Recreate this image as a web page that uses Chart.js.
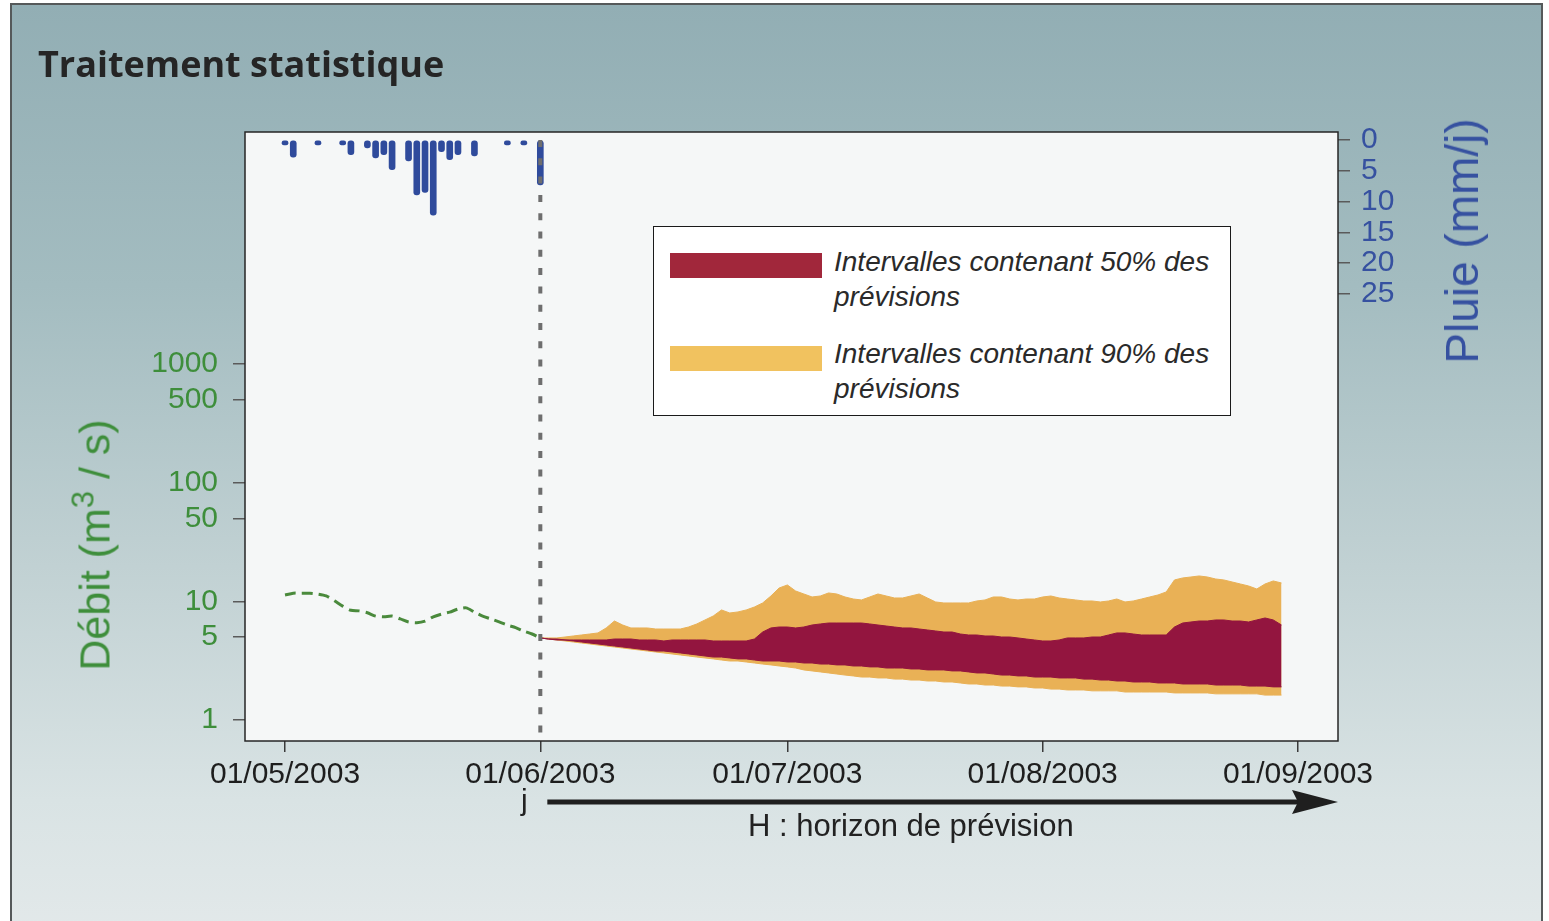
<!DOCTYPE html>
<html lang="fr">
<head>
<meta charset="utf-8">
<title>Traitement statistique</title>
<script src="https://cdn.jsdelivr.net/npm/chart.js@4.4.1/dist/chart.umd.min.js"></script>
<style>
  html, body { margin: 0; padding: 0; background: #ffffff; }
  body { width: 1549px; height: 921px; position: relative; overflow: hidden;
         font-family: "Liberation Sans", Arial, sans-serif; }
  #frame { position: absolute; left: 10px; top: 3px; width: 1533px; height: 940px;
           box-sizing: border-box; border: 2px solid #55595a;
           background: linear-gradient(180deg, #92aeb4 0%, #a3bcc0 30%, #c1d1d3 60%, #d9e3e4 85%, #e3e9ea 100%); }
  #chart { position: absolute; left: 0; top: 0; }
  .txt { position: absolute; white-space: nowrap; }
  #title { left: 38px; top: 46px; font-family: "Open Sans", sans-serif; font-weight: 700;
           font-size: 36px; line-height: 36px; color: #252525; }
  #ytitle { left: 95px; top: 545px; font-size: 43px; line-height: 43px; color: #3e8e3b;
            transform: translate(-50%, -50%) rotate(-90deg); }
  #ytitle sup { font-size: 31px; line-height: 0; vertical-align: 16px; }
  #rtitle { left: 1462px; top: 241px; font-size: 46px; line-height: 46px; color: #3651a0;
            transform: translate(-50%, -50%) rotate(-90deg); }
  #legend { position: absolute; left: 653px; top: 226px; width: 578px; height: 190px;
            box-sizing: border-box; border: 1.5px solid #1a1a1a; background: #ffffff; }
  .sw { position: absolute; left: 16px; width: 152px; height: 25px; }
  .lt { position: absolute; left: 180px; font-style: italic; font-size: 28px; line-height: 35px; color: #2a2a2a; }
  #jlab { left: 521px; top: 785px; font-size: 30px; line-height: 30px; color: #222; }
  #hlab { left: 748px; top: 810px; font-size: 31px; line-height: 31px; color: #222; }
</style>
</head>
<body>
<div id="frame"></div>
<canvas id="chart" width="1549" height="921"></canvas>
<div class="txt" id="title">Traitement statistique</div>
<div class="txt" id="ytitle">Débit (m<sup>3</sup> / s)</div>
<div class="txt" id="rtitle">Pluie (mm/j)</div>
<div id="legend">
  <div class="sw" style="top:26px;background:#a1273b;"></div>
  <div class="lt" style="top:17px;">Intervalles contenant 50% des<br>prévisions</div>
  <div class="sw" style="top:119px;background:#f1c25f;"></div>
  <div class="lt" style="top:109px;">Intervalles contenant 90% des<br>prévisions</div>
</div>
<div class="txt" id="jlab">j</div>
<div class="txt" id="hlab">H : horizon de prévision</div>

<script>
// Days are counted from 01/05/2003 (day 0).
const dateTickDays = [0, 31, 61, 92, 123];
const dateTickLabels = ['01/05/2003', '01/06/2003', '01/07/2003', '01/08/2003', '01/09/2003'];
const flowTicks = [1, 5, 10, 50, 100, 500, 1000];
const rainTicks = [0, 5, 10, 15, 20, 25];

// Forecast issue day "j" (01/06/2003)
const issueDay = 31;

// Daily rainfall (mm/j)
const rainDays = [0, 1, 4, 7, 8, 10, 11, 12, 13, 15, 16, 17, 18, 19, 20, 21, 23, 27, 29, 31];
const rainMm   = [0.3, 2.8, 0.3, 0.3, 2.4, 1.3, 2.9, 2.4, 4.8, 3.4, 8.9, 8.5, 12.2, 1.9, 3.2, 2.4, 2.6, 0.8, 0.2, 7.3];

// Observed discharge (m3/s), daily from day 0 to day 31
const observedStartDay = 0;
const observedFlow = [11.3, 11.7, 11.7, 11.7, 11.5, 11.1, 10.1, 9.1, 8.4, 8.3, 8.0, 7.5, 7.4, 7.5, 7.1, 6.7,
                      6.6, 6.8, 7.4, 7.8, 8.1, 8.6, 8.8, 8.1, 7.5, 7.1, 6.7, 6.3, 6.0, 5.6, 5.3, 4.9];

// Forecast quantiles (m3/s), daily from day 31 to day 121
const forecastStartDay = 31;
const q95 = [4.91, 4.91, 4.91, 5.00, 5.10, 5.20, 5.30, 5.41, 5.96, 6.82,
             6.31, 5.96, 5.96, 5.96, 5.84, 5.84, 5.84, 5.84, 6.07, 6.44,
             6.96, 7.52, 8.45, 7.97, 8.13, 8.45, 8.95, 9.68, 11.08, 12.94,
             13.72, 12.21, 11.52, 10.87, 11.08, 11.75, 11.52, 10.87, 10.45, 10.26,
             10.87, 11.52, 11.08, 10.66, 10.66, 11.08, 11.52, 10.66, 9.87, 9.68,
             9.68, 9.68, 9.68, 10.06, 10.26, 10.87, 10.87, 10.45, 10.26, 10.45,
             10.45, 10.87, 11.08, 10.66, 10.45, 10.26, 10.06, 10.06, 9.87, 10.06,
             10.45, 9.87, 10.06, 10.45, 10.87, 11.30, 11.98, 15.12, 15.72, 16.02,
             16.34, 16.02, 15.41, 15.12, 14.54, 13.99, 13.46, 12.69, 13.99, 14.83, 14.26];
const q75 = [4.91, 4.81, 4.81, 4.72, 4.72, 4.72, 4.72, 4.72, 4.72, 4.81,
             4.81, 4.81, 4.72, 4.72, 4.72, 4.63, 4.72, 4.72, 4.72, 4.72,
             4.72, 4.63, 4.63, 4.63, 4.63, 4.63, 4.81, 5.51, 5.96, 6.07,
             6.07, 5.96, 6.07, 6.31, 6.44, 6.56, 6.56, 6.56, 6.56, 6.56,
             6.44, 6.31, 6.19, 6.07, 5.96, 5.96, 5.84, 5.73, 5.62, 5.51,
             5.51, 5.30, 5.20, 5.20, 5.10, 5.10, 5.00, 5.00, 4.91, 4.81,
             4.72, 4.63, 4.63, 4.72, 4.91, 4.91, 4.91, 5.00, 5.00, 5.20,
             5.41, 5.41, 5.30, 5.20, 5.20, 5.20, 5.20, 6.07, 6.56, 6.69,
             6.82, 6.82, 6.96, 6.96, 6.82, 6.82, 6.69, 6.96, 7.23, 6.96, 6.31];
const q25 = [4.91, 4.81, 4.72, 4.72, 4.63, 4.54, 4.45, 4.37, 4.28, 4.20,
             4.12, 4.04, 3.96, 3.89, 3.81, 3.81, 3.74, 3.67, 3.60, 3.53,
             3.46, 3.39, 3.39, 3.33, 3.27, 3.27, 3.20, 3.14, 3.14, 3.14,
             3.08, 3.08, 3.02, 3.02, 2.96, 2.96, 2.91, 2.91, 2.85, 2.85,
             2.80, 2.80, 2.74, 2.74, 2.74, 2.69, 2.69, 2.64, 2.64, 2.64,
             2.59, 2.59, 2.54, 2.49, 2.49, 2.44, 2.39, 2.39, 2.35, 2.35,
             2.30, 2.30, 2.30, 2.26, 2.26, 2.26, 2.21, 2.21, 2.17, 2.17,
             2.13, 2.13, 2.09, 2.09, 2.09, 2.05, 2.05, 2.05, 2.01, 2.01,
             2.01, 2.01, 1.97, 1.97, 1.97, 1.97, 1.93, 1.93, 1.93, 1.90, 1.90];
const q05 = [4.91, 4.81, 4.72, 4.63, 4.54, 4.45, 4.37, 4.28, 4.20, 4.12,
             4.04, 3.96, 3.89, 3.81, 3.74, 3.67, 3.60, 3.53, 3.46, 3.39,
             3.33, 3.27, 3.20, 3.14, 3.14, 3.08, 3.02, 2.96, 2.91, 2.85,
             2.80, 2.74, 2.64, 2.59, 2.54, 2.49, 2.44, 2.39, 2.35, 2.30,
             2.30, 2.26, 2.26, 2.21, 2.21, 2.17, 2.17, 2.13, 2.13, 2.09,
             2.09, 2.05, 2.01, 2.01, 1.97, 1.97, 1.93, 1.93, 1.90, 1.90,
             1.86, 1.86, 1.82, 1.82, 1.79, 1.79, 1.79, 1.76, 1.76, 1.76,
             1.76, 1.72, 1.72, 1.72, 1.72, 1.72, 1.72, 1.69, 1.69, 1.69,
             1.69, 1.69, 1.66, 1.66, 1.66, 1.66, 1.66, 1.66, 1.62, 1.62, 1.62];

const COL_RAIN = '#2f4b9c';
const COL_OBS = '#4a8a3c';
const COL_50 = '#93153f';
const COL_90 = '#e9b156';
const TICK_FONT = { family: '"Liberation Sans", Arial, sans-serif', size: 30 };

const series = (start, values) => values.map((v, i) => ({ x: start + i, y: v }));

// Plot background, plot box, "j" line and forecast-horizon arrow
const decor = {
  id: 'decor',
  beforeDraw(chart) {
    const { ctx, chartArea: a } = chart;
    ctx.save();
    ctx.fillStyle = '#f5f7f7';
    ctx.fillRect(a.left, a.top, a.right - a.left, a.bottom - a.top);
    ctx.restore();
  },
  afterDatasetsDraw(chart) {
    const { ctx, chartArea: a, scales } = chart;
    const xj = scales.x.getPixelForValue(issueDay);
    ctx.save();
    ctx.strokeStyle = '#6e6e6e';
    ctx.lineWidth = 4;
    ctx.setLineDash([7, 11.3]);
    ctx.beginPath();
    ctx.moveTo(xj, a.top + 8);
    ctx.lineTo(xj, a.bottom);
    ctx.stroke();
    ctx.restore();

    ctx.save();
    ctx.strokeStyle = '#262626';
    ctx.lineWidth = 1.5;
    ctx.strokeRect(a.left, a.top, a.right - a.left, a.bottom - a.top);
    ctx.restore();
  },
  afterDraw(chart) {
    const { ctx, chartArea: a, scales } = chart;
    const xj = scales.x.getPixelForValue(issueDay);
    const y = 802;
    ctx.save();
    ctx.strokeStyle = '#1f1f1f';
    ctx.fillStyle = '#1f1f1f';
    ctx.lineWidth = 5;
    ctx.beginPath();
    ctx.moveTo(xj + 7, y);
    ctx.lineTo(a.right - 40, y);
    ctx.stroke();
    ctx.beginPath();
    ctx.moveTo(a.right, y);
    ctx.lineTo(a.right - 46, y - 12);
    ctx.lineTo(a.right - 40, y);
    ctx.lineTo(a.right - 46, y + 12);
    ctx.closePath();
    ctx.fill();
    ctx.restore();
  }
};

new Chart(document.getElementById('chart'), {
  type: 'line',
  data: {
    datasets: [
      {
        type: 'bar', label: 'Pluie', yAxisID: 'yR', xAxisID: 'x',
        data: rainDays.map((d, i) => ({ x: d, y: rainMm[i] })),
        backgroundColor: COL_RAIN, barThickness: 6, grouped: false,
        borderRadius: 3, borderSkipped: false, minBarLength: 5
      },
      {
        label: 'Débit observé', yAxisID: 'y',
        data: series(observedStartDay, observedFlow),
        borderColor: COL_OBS, borderWidth: 3, borderDash: [11, 6],
        pointRadius: 0, tension: 0.25, fill: false
      },
      {
        label: 'Q75', yAxisID: 'y', data: series(forecastStartDay, q75),
        borderColor: COL_50, backgroundColor: COL_50, borderWidth: 1,
        pointRadius: 0, fill: '+1'
      },
      {
        label: 'Q25', yAxisID: 'y', data: series(forecastStartDay, q25),
        borderColor: COL_50, borderWidth: 1, pointRadius: 0, fill: false
      },
      {
        label: 'Q95', yAxisID: 'y', data: series(forecastStartDay, q95),
        borderColor: COL_90, backgroundColor: COL_90, borderWidth: 1,
        pointRadius: 0, fill: '+1'
      },
      {
        label: 'Q05', yAxisID: 'y', data: series(forecastStartDay, q05),
        borderColor: COL_90, borderWidth: 1, pointRadius: 0, fill: false
      }
    ]
  },
  options: {
    responsive: false,
    animation: false,
    events: [],
    layout: { padding: { top: 132, left: 0, right: 0, bottom: 0 } },
    plugins: { legend: { display: false }, tooltip: { enabled: false }, title: { display: false } },
    scales: {
      x: {
        type: 'linear', position: 'bottom', min: -4.86, max: 127.86, bounds: 'data',
        offset: false,
        afterBuildTicks: s => { s.ticks = dateTickDays.map(v => ({ value: v })); },
        afterFit: s => { s.height = 180; },
        ticks: {
          autoSkip: false, maxRotation: 0, minRotation: 0, padding: 5,
          color: '#1e1e1e', font: TICK_FONT,
          callback: v => { const i = dateTickDays.indexOf(v); return i >= 0 ? dateTickLabels[i] : ''; }
        },
        grid: { offset: false, drawOnChartArea: false, drawTicks: true, tickLength: 11, color: '#3a3a3a', lineWidth: 1.5 },
        border: { display: false }
      },
      y: {
        type: 'logarithmic', position: 'left', min: 0.665, max: 89900, bounds: 'data',
        afterBuildTicks: s => { s.ticks = flowTicks.map(v => ({ value: v })); },
        afterFit: s => { s.width = 245; },
        ticks: {
          autoSkip: false, padding: 15, color: '#3e8e3b', font: TICK_FONT,
          callback: v => String(v)
        },
        grid: { drawOnChartArea: false, drawTicks: true, tickLength: 12, color: '#5a5a5a', lineWidth: 1.5 },
        border: { display: false }
      },
      yR: {
        type: 'linear', position: 'right', reverse: true, min: -1.3, max: 97.6, bounds: 'data',
        afterBuildTicks: s => { s.ticks = rainTicks.map(v => ({ value: v })); },
        afterFit: s => { s.width = 211; },
        ticks: {
          autoSkip: false, padding: 11, color: '#3651a0', font: TICK_FONT,
          callback: v => String(v)
        },
        grid: { drawOnChartArea: false, drawTicks: true, tickLength: 12, color: '#5a5a5a', lineWidth: 1.5 },
        border: { display: false }
      }
    }
  },
  plugins: [decor]
});
</script>
</body>
</html>
